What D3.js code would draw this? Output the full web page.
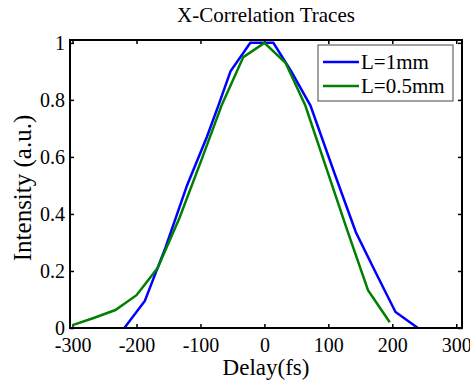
<!DOCTYPE html>
<html>
<head>
<meta charset="utf-8">
<script src="https://cdn.jsdelivr.net/npm/d3@7"></script>
<style>
  body { margin: 0; background: #fff; }
</style>
</head>
<body>
<div id="chart"></div>
<script>
// data
var delay1mm = [-219, -187, -155, -121, -90, -72, -53, -22, 14, 42, 72, 110, 143, 175, 205, 240];
var int1mm   = [0, 0.095, 0.28, 0.50, 0.67, 0.78, 0.90, 1.0, 1.0, 0.90, 0.78, 0.54, 0.336, 0.19, 0.056, 0];

var delay05mm = [-300, -267, -233, -200, -167, -133, -100, -67, -33, 0, 33, 64, 97, 130, 162, 196];
var int05mm   = [0.01, 0.035, 0.063, 0.115, 0.21, 0.385, 0.58, 0.78, 0.95, 1.0, 0.93, 0.78, 0.56, 0.34, 0.133, 0.02];

var seriesNames = ["L=1mm", "L=0.5mm"];
var xTicks = [-300, -200, -100, 0, 100, 200, 300];
var yTicks = [0, 0.2, 0.4, 0.6, 0.8, 1];
var yTickLabels = ["0", "0.2", "0.4", "0.6", "0.8", "1"];

var FONT = "Liberation Serif";

// svg size
var svgWidth = 470;
var svgHeight = 385;

var margin = { top: 40, right: 8, bottom: 57, left: 70 };
var width = svgWidth - margin.left - margin.right;
var height = svgHeight - margin.top - margin.bottom;

var svg = d3.select("#chart")
  .append("svg")
  .attr("width", svgWidth)
  .attr("height", svgHeight)
  .attr("font-family", FONT);

var chart = svg.append("g")
  .attr("transform", `translate(${margin.left}, ${margin.top})`);

// scales
var xScale = d3.scaleLinear().domain([-304, 309]).range([0, width]);
var yScale = d3.scaleLinear().domain([0, 1.01]).range([height, 0]);

// axes, ticks point inwards like matlab
var bottomAxis = d3.axisBottom(xScale).tickValues(xTicks)
  .tickSize(-4).tickPadding(10).tickFormat(d => String(d));
var leftAxis = d3.axisLeft(yScale).tickValues(yTicks)
  .tickSize(-4).tickPadding(5).tickFormat((d, i) => yTickLabels[i]);
var topAxis = d3.axisTop(xScale).tickValues(xTicks).tickSize(-4).tickFormat("");
var rightAxis = d3.axisRight(yScale).tickValues(yTicks).tickSize(-4).tickFormat("");

chart.append("g").attr("transform", `translate(0, ${height})`).call(bottomAxis);
chart.append("g").call(leftAxis);
chart.append("g").call(topAxis);
chart.append("g").attr("transform", `translate(${width}, 0)`).call(rightAxis);

chart.selectAll(".domain").remove();
chart.selectAll(".tick line").attr("stroke", "#000").attr("stroke-width", 1.5);
chart.selectAll(".tick text")
  .attr("font-family", FONT)
  .attr("fill", "#000")
  .style("font-size", "20px");

// lines
var line = d3.line()
  .x(d => xScale(d[0]))
  .y(d => yScale(d[1]));

var data1 = delay1mm.map((d, i) => [d, int1mm[i]]);
var data2 = delay05mm.map((d, i) => [d, int05mm[i]]);
var colors = ["#0000ff", "#008000"];

chart.append("path")
  .datum(data1)
  .attr("d", line)
  .attr("fill", "none")
  .attr("stroke", colors[0])
  .attr("stroke-width", 2.5);

chart.append("path")
  .datum(data2)
  .attr("d", line)
  .attr("fill", "none")
  .attr("stroke", colors[1])
  .attr("stroke-width", 2.5);

// axes box
chart.append("rect")
  .attr("x", 0).attr("y", 0)
  .attr("width", width).attr("height", height)
  .attr("fill", "none")
  .attr("stroke", "#000")
  .attr("stroke-width", 2);

// legend
var legend = svg.append("g").attr("transform", "translate(318, 45)");
legend.append("rect")
  .attr("width", 135).attr("height", 56)
  .attr("fill", "#fff")
  .attr("stroke", "#444")
  .attr("stroke-width", 1);

seriesNames.forEach(function(name, i) {
  var yRow = 17 + i * 24;
  legend.append("line")
    .attr("x1", 5).attr("x2", 41)
    .attr("y1", yRow).attr("y2", yRow)
    .attr("stroke", colors[i])
    .attr("stroke-width", 2.5);
  legend.append("text")
    .attr("x", 43)
    .attr("y", yRow + 7)
    .attr("font-family", FONT)
    .style("font-size", "21px")
    .text(name);
});

// title & axis labels
svg.append("text")
  .attr("x", 266).attr("y", 22)
  .attr("text-anchor", "middle")
  .attr("font-family", FONT)
  .style("font-size", "21px")
  .text("X-Correlation Traces");

svg.append("text")
  .attr("x", 266).attr("y", 375)
  .attr("text-anchor", "middle")
  .attr("font-family", FONT)
  .style("font-size", "23px")
  .text("Delay(fs)");

svg.append("text")
  .attr("transform", "translate(31, 188) rotate(-90)")
  .attr("text-anchor", "middle")
  .attr("font-family", FONT)
  .style("font-size", "25px")
  .text("Intensity (a.u.)");
</script>
</body>
</html>
